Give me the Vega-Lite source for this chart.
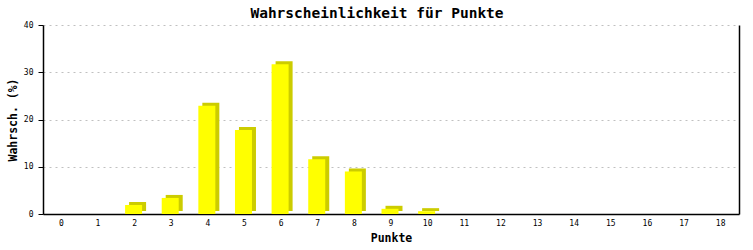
{
  "$schema": "https://vega.github.io/schema/vega-lite/v6.json",
  "width": 696,
  "height": 189,
  "autosize": {"type": "none"},
  "padding": {"left": 43, "top": 25, "right": 14, "bottom": 36},
  "background": "white",
  "title": {
    "text": "Wahrscheinlichkeit für Punkte",
    "font": "DejaVu Sans Mono",
    "fontSize": 14.5,
    "fontWeight": "bold",
    "color": "black",
    "anchor": "middle",
    "dx": -14,
    "offset": 0
  },
  "data": {
    "values": [
      {"punkte": 0, "wert": 0},
      {"punkte": 1, "wert": 0},
      {"punkte": 2, "wert": 1.9},
      {"punkte": 3, "wert": 3.4},
      {"punkte": 4, "wert": 22.9},
      {"punkte": 5, "wert": 17.8},
      {"punkte": 6, "wert": 31.7},
      {"punkte": 7, "wert": 11.6},
      {"punkte": 8, "wert": 9.0},
      {"punkte": 9, "wert": 1.1},
      {"punkte": 10, "wert": 0.6},
      {"punkte": 11, "wert": 0},
      {"punkte": 12, "wert": 0},
      {"punkte": 13, "wert": 0},
      {"punkte": 14, "wert": 0},
      {"punkte": 15, "wert": 0},
      {"punkte": 16, "wert": 0},
      {"punkte": 17, "wert": 0},
      {"punkte": 18, "wert": 0}
    ]
  },
  "encoding": {
    "x": {
      "field": "punkte",
      "type": "ordinal",
      "sort": "ascending",
      "scale": {"paddingInner": 0, "paddingOuter": 0},
      "axis": {
        "title": "Punkte",
        "labelAngle": 0,
        "ticks": false,
        "labelPadding": 5,
        "titlePadding": 5,
        "domainColor": "black",
        "domainWidth": 1.5
      }
    }
  },
  "layer": [
    {
      "transform": [{"filter": "datum.wert > 0"}],
      "mark": {"type": "bar", "color": "#cccc00", "width": 17, "xOffset": 3, "yOffset": -3},
      "encoding": {
        "y": {
          "field": "wert",
          "type": "quantitative",
          "scale": {"domain": [0, 40]},
          "axis": {
            "orient": "right",
            "labels": false,
            "ticks": false,
            "grid": false,
            "title": null,
            "domainColor": "black",
            "domainWidth": 1.5
          }
        }
      }
    },
    {
      "mark": {"type": "bar", "color": "#ffff00", "width": 17, "xOffset": -1},
      "encoding": {
        "y": {
          "field": "wert",
          "type": "quantitative",
          "scale": {"domain": [0, 40]},
          "axis": {
            "title": "Wahrsch. (%)",
            "values": [0, 10, 20, 30, 40],
            "tickSize": 5,
            "tickColor": "black",
            "labelPadding": 5,
            "titlePadding": 5,
            "domainColor": "black",
            "domainWidth": 1.5,
            "grid": true,
            "gridColor": "#c0c0c0",
            "gridDash": [2, 4]
          }
        }
      }
    }
  ],
  "resolve": {"axis": {"y": "independent"}},
  "config": {
    "view": {"stroke": null},
    "axis": {
      "labelFont": "DejaVu Sans Mono",
      "labelFontSize": 8,
      "labelColor": "black",
      "titleFont": "DejaVu Sans Mono",
      "titleFontSize": 11.5,
      "titleFontWeight": "bold",
      "titleColor": "black"
    }
  }
}
